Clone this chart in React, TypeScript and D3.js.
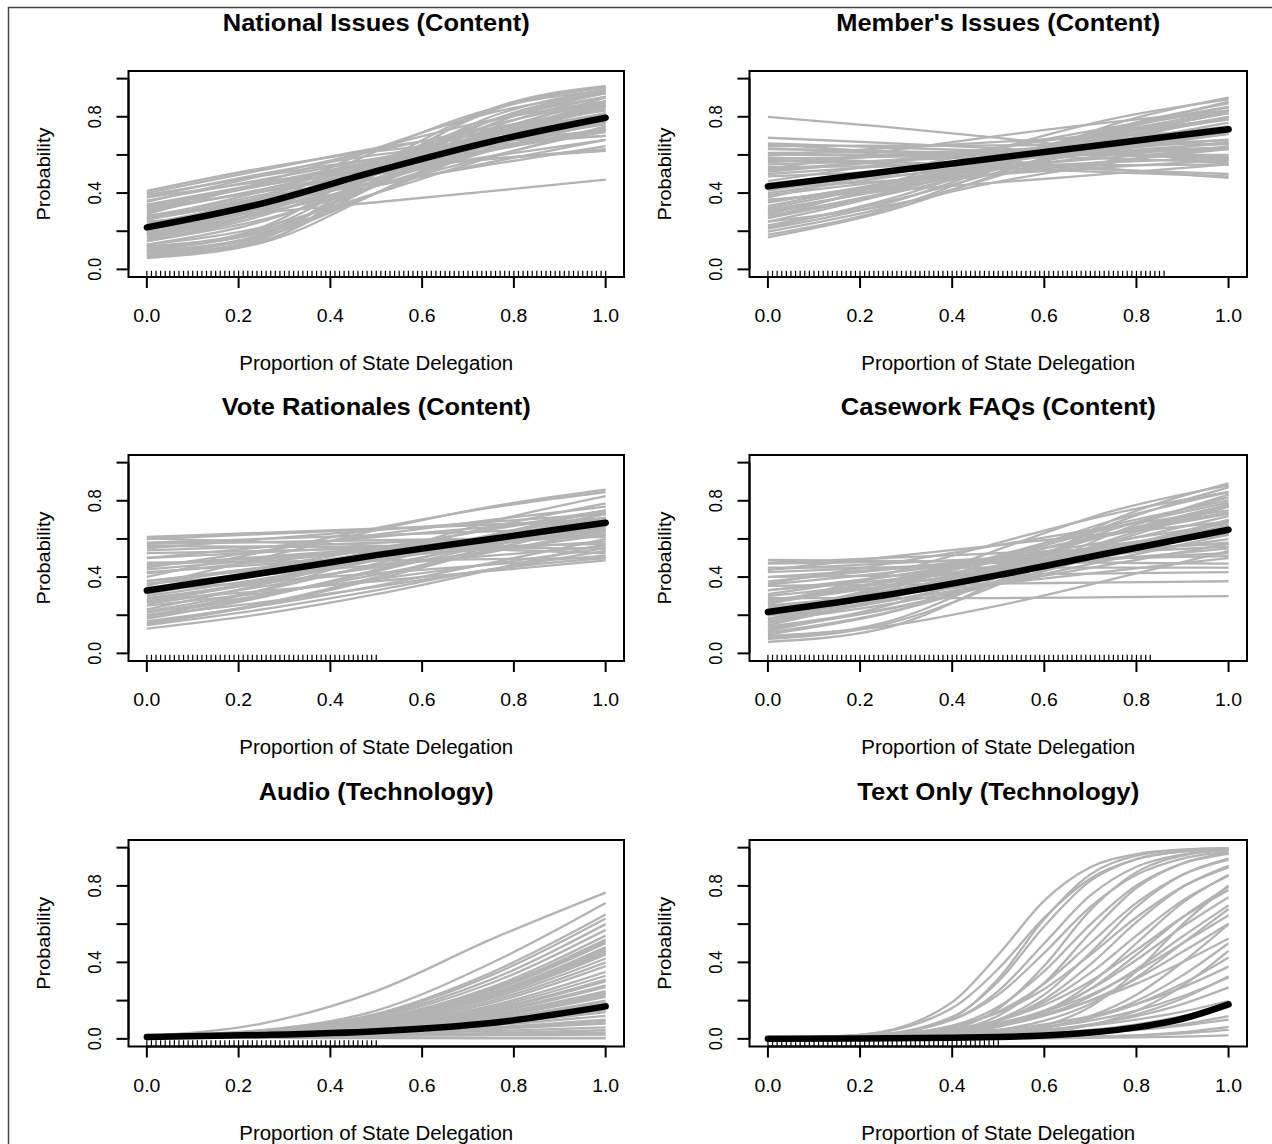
import * as d3 from 'd3';
import React from 'react';

// ---- data ----

const panelTitles = [
  'National Issues (Content)',
  "Member's Issues (Content)",
  'Vote Rationales (Content)',
  'Casework FAQs (Content)',
  'Audio (Technology)',
  'Text Only (Technology)',
];

const xLabel = 'Proportion of State Delegation';
const yLabel = 'Probability';

const xTicks = [0, 0.2, 0.4, 0.6, 0.8, 1.0];
const yTicks = [0, 0.2, 0.4, 0.6, 0.8, 1.0];
const yLabelTicks = [0, 0.4, 0.8];

// x positions where each simulated curve was read
const gridContent = [0, 0.25, 0.5, 0.75, 1];
const gridText = [0, 0.2, 0.4, 0.5, 0.6, 0.7, 0.8, 0.9, 1];

// observed delegation shares (rug), cut at each panel's largest value
const delegationShares = [
  0, 0.01, 0.02, 0.03, 0.04, 0.05, 0.06, 0.07, 0.08, 0.09, 0.1, 0.11, 0.12, 0.13, 0.14, 0.15, 0.16, 0.17,
  0.18, 0.19, 0.2, 0.21, 0.22, 0.23, 0.24, 0.25, 0.26, 0.27, 0.28, 0.29, 0.3, 0.31, 0.32, 0.33, 0.34,
  0.35, 0.36, 0.37, 0.38, 0.39, 0.4, 0.41, 0.42, 0.43, 0.44, 0.45, 0.46, 0.47, 0.48, 0.49, 0.5, 0.51,
  0.52, 0.53, 0.54, 0.55, 0.56, 0.57, 0.58, 0.59, 0.6, 0.61, 0.62, 0.63, 0.64, 0.65, 0.66, 0.67, 0.68,
  0.69, 0.7, 0.71, 0.72, 0.73, 0.74, 0.75, 0.76, 0.77, 0.78, 0.79, 0.8, 0.81, 0.82, 0.83, 0.84, 0.85,
  0.86, 0.87, 0.88, 0.89, 0.9, 0.91, 0.92, 0.93, 0.94, 0.95, 0.96, 0.97, 0.98, 0.99, 1.0,
];
const rugLimits = [1.0, 0.86, 0.5, 0.83, 0.5, 0.5];

const nationalMean = [0.22, 0.345, 0.515, 0.67, 0.795];
const nationalDraws = [
  [0.06, 0.14, 0.5, 0.84, 0.96], [0.076, 0.16, 0.52, 0.83, 0.953], [0.076, 0.15, 0.45, 0.76, 0.924],
  [0.095, 0.18, 0.5, 0.8, 0.94], [0.095, 0.17, 0.44, 0.74, 0.905], [0.119, 0.21, 0.5, 0.78, 0.924],
  [0.119, 0.2, 0.45, 0.72, 0.881], [0.119, 0.19, 0.4, 0.64, 0.818], [0.148, 0.3, 0.56, 0.777, 0.905],
  [0.148, 0.28, 0.5, 0.706, 0.852], [0.148, 0.26, 0.438, 0.622, 0.777], [0.182, 0.34, 0.562, 0.755, 0.881],
  [0.182, 0.32, 0.5, 0.679, 0.818], [0.182, 0.294, 0.438, 0.593, 0.731], [0.223, 0.378, 0.562, 0.731, 0.852],
  [0.223, 0.349, 0.5, 0.651, 0.777], [0.223, 0.321, 0.438, 0.562, 0.679], [0.269, 0.407, 0.562, 0.706, 0.818],
  [0.269, 0.378, 0.5, 0.622, 0.731], [0.269, 0.354, 0.45, 0.55, 0.646], [0.321, 0.438, 0.562, 0.679, 0.777],
  [0.321, 0.407, 0.5, 0.593, 0.679], [0.378, 0.5, 0.6, 0.67, 0.73], [0.378, 0.46, 0.53, 0.58, 0.622],
  [0.401, 0.52, 0.635, 0.72, 0.79], [0.411, 0.53, 0.62, 0.67, 0.7], [0.25, 0.298, 0.352, 0.41, 0.47],
  [0.069, 0.14, 0.4, 0.69, 0.881], [0.109, 0.22, 0.55, 0.84, 0.953], [0.13, 0.22, 0.4, 0.587, 0.75],
  [0.289, 0.456, 0.634, 0.782, 0.881], [0.168, 0.34, 0.62, 0.84, 0.94], [0.091, 0.17, 0.4, 0.67, 0.858],
  [0.354, 0.49, 0.622, 0.741, 0.832], [0.198, 0.38, 0.634, 0.821, 0.924], [0.332, 0.44, 0.52, 0.58, 0.63],
  [0.2, 0.33, 0.52, 0.7, 0.84], [0.16, 0.3, 0.5, 0.7, 0.86], [0.24, 0.36, 0.52, 0.66, 0.78],
  [0.28, 0.39, 0.53, 0.66, 0.76], [0.3, 0.42, 0.55, 0.68, 0.8], [0.34, 0.45, 0.57, 0.68, 0.77],
  [0.36, 0.47, 0.58, 0.7, 0.8], [0.13, 0.25, 0.47, 0.7, 0.87], [0.1, 0.2, 0.44, 0.71, 0.9],
  [0.19, 0.31, 0.48, 0.65, 0.8], [0.26, 0.37, 0.5, 0.63, 0.74], [0.22, 0.35, 0.54, 0.72, 0.86],
  [0.31, 0.41, 0.52, 0.63, 0.72], [0.39, 0.49, 0.58, 0.65, 0.7], [0.17, 0.29, 0.46, 0.63, 0.77],
  [0.08, 0.18, 0.47, 0.78, 0.93],
];

const membersMean = [0.435, 0.51, 0.585, 0.66, 0.735];
const membersDraws = [
  [0.168, 0.3, 0.5, 0.72, 0.88], [0.182, 0.31, 0.53, 0.76, 0.9], [0.198, 0.32, 0.49, 0.68, 0.832],
  [0.214, 0.34, 0.54, 0.74, 0.87], [0.231, 0.35, 0.51, 0.67, 0.8], [0.25, 0.39, 0.58, 0.739, 0.852],
  [0.269, 0.389, 0.525, 0.657, 0.769], [0.289, 0.426, 0.574, 0.711, 0.818], [0.31, 0.413, 0.525, 0.634, 0.731],
  [0.332, 0.45, 0.574, 0.69, 0.786], [0.354, 0.444, 0.537, 0.628, 0.711], [0.378, 0.506, 0.634, 0.746, 0.832],
  [0.389, 0.46, 0.531, 0.601, 0.668], [0.413, 0.503, 0.593, 0.677, 0.75], [0.438, 0.488, 0.537, 0.587, 0.634],
  [0.463, 0.552, 0.64, 0.719, 0.786], [0.488, 0.512, 0.537, 0.562, 0.587], [0.512, 0.565, 0.617, 0.666, 0.711],
  [0.537, 0.54, 0.543, 0.546, 0.55], [0.562, 0.593, 0.622, 0.651, 0.679], [0.587, 0.565, 0.544, 0.522, 0.5],
  [0.61, 0.613, 0.616, 0.619, 0.634], [0.634, 0.617, 0.599, 0.58, 0.562], [0.657, 0.615, 0.571, 0.526, 0.48],
  [0.69, 0.663, 0.634, 0.605, 0.574], [0.8, 0.748, 0.689, 0.622, 0.55], [0.599, 0.634, 0.668, 0.7, 0.731],
  [0.426, 0.463, 0.5, 0.537, 0.574], [0.646, 0.648, 0.65, 0.654, 0.657], [0.269, 0.444, 0.634, 0.79, 0.891],
  [0.574, 0.553, 0.531, 0.509, 0.488], [0.366, 0.41, 0.456, 0.503, 0.55], [0.525, 0.617, 0.7, 0.773, 0.832],
  [0.25, 0.33, 0.46, 0.56, 0.646],
  [0.3, 0.42, 0.56, 0.7, 0.82], [0.35, 0.45, 0.56, 0.66, 0.75], [0.4, 0.48, 0.56, 0.64, 0.71],
  [0.45, 0.51, 0.57, 0.63, 0.68], [0.5, 0.54, 0.58, 0.62, 0.66], [0.55, 0.57, 0.59, 0.61, 0.63],
  [0.6, 0.6, 0.6, 0.6, 0.6], [0.63, 0.62, 0.61, 0.6, 0.59], [0.66, 0.64, 0.62, 0.6, 0.58],
  [0.28, 0.4, 0.55, 0.69, 0.8], [0.32, 0.44, 0.58, 0.72, 0.83], [0.42, 0.5, 0.58, 0.66, 0.74],
  [0.52, 0.57, 0.62, 0.67, 0.72], [0.58, 0.59, 0.6, 0.62, 0.64], [0.22, 0.36, 0.55, 0.73, 0.85],
  [0.36, 0.43, 0.5, 0.57, 0.63],
];

const voteMean = [0.33, 0.42, 0.515, 0.6, 0.685];
const voteDraws = [
  [0.13, 0.206, 0.31, 0.438, 0.574], [0.148, 0.23, 0.33, 0.44, 0.5], [0.154, 0.254, 0.389, 0.544, 0.69],
  [0.168, 0.25, 0.354, 0.475, 0.599], [0.182, 0.294, 0.438, 0.593, 0.731], [0.198, 0.267, 0.349, 0.44, 0.537],
  [0.214, 0.305, 0.413, 0.531, 0.646], [0.231, 0.36, 0.512, 0.663, 0.786], [0.25, 0.315, 0.389, 0.469, 0.55],
  [0.269, 0.372, 0.488, 0.605, 0.711], [0.289, 0.366, 0.45, 0.537, 0.622], [0.31, 0.42, 0.537, 0.651, 0.75],
  [0.332, 0.375, 0.42, 0.465, 0.512], [0.354, 0.5, 0.646, 0.769, 0.858], [0.378, 0.45, 0.525, 0.599, 0.668],
  [0.401, 0.531, 0.657, 0.764, 0.846], [0.426, 0.466, 0.506, 0.547, 0.587], [0.45, 0.537, 0.622, 0.7, 0.769],
  [0.475, 0.481, 0.487, 0.494, 0.5], [0.5, 0.556, 0.61, 0.663, 0.711], [0.525, 0.537, 0.55, 0.562, 0.574],
  [0.55, 0.599, 0.646, 0.69, 0.731], [0.574, 0.583, 0.593, 0.602, 0.61], [0.599, 0.625, 0.651, 0.676, 0.7],
  [0.61, 0.632, 0.654, 0.674, 0.694], [0.603, 0.584, 0.565, 0.545, 0.525], [0.19, 0.332, 0.512, 0.69, 0.825],
  [0.279, 0.326, 0.378, 0.432, 0.488], [0.463, 0.506, 0.55, 0.593, 0.634], [0.562, 0.56, 0.556, 0.553, 0.55],
  [0.366, 0.413, 0.463, 0.512, 0.562],
  [0.2, 0.3, 0.43, 0.57, 0.7], [0.26, 0.35, 0.46, 0.57, 0.67], [0.3, 0.39, 0.49, 0.59, 0.68],
  [0.34, 0.41, 0.49, 0.57, 0.64], [0.38, 0.44, 0.51, 0.58, 0.65], [0.42, 0.48, 0.54, 0.6, 0.66],
  [0.46, 0.5, 0.54, 0.58, 0.62], [0.5, 0.53, 0.56, 0.59, 0.62], [0.54, 0.56, 0.58, 0.6, 0.62],
  [0.58, 0.6, 0.62, 0.64, 0.66], [0.16, 0.26, 0.4, 0.56, 0.71], [0.22, 0.33, 0.47, 0.62, 0.75],
  [0.28, 0.38, 0.5, 0.62, 0.73], [0.36, 0.45, 0.55, 0.65, 0.74], [0.44, 0.49, 0.55, 0.6, 0.65],
];

const caseworkMean = [0.217, 0.303, 0.41, 0.53, 0.648];
const caseworkDraws = [
  [0.06, 0.13, 0.38, 0.7, 0.891], [0.076, 0.15, 0.36, 0.63, 0.832], [0.083, 0.16, 0.4, 0.68, 0.87],
  [0.1, 0.206, 0.378, 0.587, 0.769], [0.119, 0.245, 0.438, 0.651, 0.818], [0.13, 0.227, 0.366, 0.531, 0.69],
  [0.148, 0.292, 0.494, 0.698, 0.846], [0.168, 0.254, 0.366, 0.494, 0.622], [0.182, 0.305, 0.463, 0.628, 0.769],
  [0.198, 0.274, 0.366, 0.469, 0.574], [0.214, 0.349, 0.512, 0.674, 0.802], [0.231, 0.326, 0.438, 0.556, 0.668],
  [0.25, 0.305, 0.366, 0.432, 0.5], [0.269, 0.378, 0.5, 0.622, 0.731], [0.279, 0.351, 0.432, 0.516, 0.599],
  [0.29, 0.29, 0.29, 0.295, 0.3], [0.31, 0.398, 0.494, 0.59, 0.679], [0.332, 0.383, 0.438, 0.494, 0.55],
  [0.354, 0.36, 0.366, 0.372, 0.378], [0.378, 0.438, 0.5, 0.562, 0.622], [0.401, 0.407, 0.413, 0.419, 0.426],
  [0.426, 0.45, 0.475, 0.5, 0.525], [0.45, 0.45, 0.45, 0.45, 0.45], [0.475, 0.5, 0.525, 0.55, 0.574],
  [0.49, 0.485, 0.48, 0.475, 0.47], [0.091, 0.14, 0.25, 0.39, 0.537], [0.259, 0.41, 0.58, 0.733, 0.846],
  [0.366, 0.466, 0.568, 0.665, 0.75], [0.161, 0.324, 0.544, 0.748, 0.881], [0.438, 0.503, 0.568, 0.631, 0.69],
  [0.14, 0.23, 0.37, 0.54, 0.7], [0.18, 0.27, 0.4, 0.55, 0.7], [0.2, 0.3, 0.43, 0.58, 0.72],
  [0.24, 0.32, 0.43, 0.55, 0.66], [0.27, 0.35, 0.45, 0.56, 0.66], [0.3, 0.37, 0.46, 0.55, 0.63],
  [0.33, 0.4, 0.48, 0.57, 0.65], [0.36, 0.42, 0.49, 0.56, 0.62], [0.4, 0.44, 0.49, 0.54, 0.58],
  [0.44, 0.47, 0.5, 0.53, 0.56], [0.11, 0.21, 0.38, 0.6, 0.78], [0.16, 0.28, 0.45, 0.63, 0.78],
  [0.22, 0.34, 0.5, 0.66, 0.79], [0.26, 0.37, 0.5, 0.63, 0.74], [0.47, 0.48, 0.49, 0.5, 0.51],
];

const audioMean = [0.01, 0.02, 0.04, 0.083, 0.17];
const audioDraws = [
  [0.015, 0.08, 0.25, 0.52, 0.765], [0.012, 0.044, 0.148, 0.395, 0.71], [0.016, 0.045, 0.131, 0.346, 0.65],
  [0.012, 0.04, 0.126, 0.332, 0.63], [0.009, 0.036, 0.119, 0.31, 0.6], [0.012, 0.038, 0.113, 0.291, 0.57],
  [0.012, 0.036, 0.103, 0.261, 0.52], [0.012, 0.035, 0.1, 0.255, 0.51], [0.01, 0.034, 0.1, 0.25, 0.5],
  [0.018, 0.038, 0.096, 0.239, 0.48], [0.012, 0.034, 0.095, 0.235, 0.47], [0.012, 0.034, 0.093, 0.228, 0.46],
  [0.012, 0.034, 0.092, 0.225, 0.45], [0.012, 0.033, 0.09, 0.219, 0.44], [0.007, 0.028, 0.083, 0.198, 0.4],
  [0.012, 0.032, 0.08, 0.187, 0.38], [0.012, 0.031, 0.075, 0.173, 0.35], [0.015, 0.032, 0.072, 0.164, 0.33],
  [0.012, 0.029, 0.068, 0.149, 0.3], [0.012, 0.028, 0.065, 0.141, 0.28], [0.012, 0.028, 0.063, 0.135, 0.27],
  [0.009, 0.025, 0.06, 0.127, 0.25], [0.012, 0.027, 0.058, 0.12, 0.24], [0.012, 0.026, 0.055, 0.114, 0.22],
  [0.012, 0.025, 0.053, 0.105, 0.2], [0.012, 0.024, 0.05, 0.1, 0.19], [0.012, 0.025, 0.049, 0.096, 0.18],
  [0.012, 0.023, 0.045, 0.083, 0.15], [0.012, 0.022, 0.043, 0.078, 0.14], [0.012, 0.022, 0.04, 0.071, 0.12],
  [0.012, 0.021, 0.036, 0.06, 0.1], [0.012, 0.019, 0.031, 0.05, 0.08], [0.012, 0.018, 0.027, 0.04, 0.06],
  [0.012, 0.015, 0.019, 0.025, 0.032], [0.007, 0.005, 0.004, 0.003, 0.002], [0.008, 0.007, 0.006, 0.005, 0.005],
  [0.012, 0.033, 0.088, 0.21, 0.42], [0.012, 0.03, 0.07, 0.155, 0.31], [0.012, 0.027, 0.057, 0.116, 0.23],
  [0.012, 0.024, 0.047, 0.09, 0.165], [0.012, 0.02, 0.033, 0.055, 0.09], [0.012, 0.017, 0.023, 0.03, 0.045],
  [0.01, 0.013, 0.016, 0.019, 0.022], [0.012, 0.036, 0.105, 0.27, 0.54],
];

const textMean = [0.0005, 0.0016, 0.0054, 0.01, 0.018, 0.033, 0.06, 0.105, 0.18];
const textDraws = [
  [0.002, 0.021, 0.192, 0.44, 0.723, 0.897, 0.966, 0.99, 0.997],
  [0.001, 0.009, 0.111, 0.314, 0.627, 0.86, 0.958, 0.988, 0.997],
  [0.002, 0.021, 0.161, 0.366, 0.634, 0.839, 0.94, 0.979, 0.993],
  [0.001, 0.012, 0.115, 0.3, 0.589, 0.826, 0.94, 0.981, 0.994],
  [0.001, 0.012, 0.1, 0.25, 0.5, 0.75, 0.9, 0.964, 0.988],
  [0.002, 0.015, 0.1, 0.231, 0.45, 0.69, 0.858, 0.943, 0.978],
  [0, 0.005, 0.053, 0.157, 0.382, 0.673, 0.872, 0.958, 0.987],
  [0.001, 0.01, 0.069, 0.168, 0.354, 0.599, 0.802, 0.917, 0.968],
  [0.001, 0.005, 0.044, 0.121, 0.293, 0.555, 0.789, 0.918, 0.971],
  [0.002, 0.011, 0.063, 0.142, 0.289, 0.5, 0.711, 0.858, 0.937],
  [0.001, 0.005, 0.039, 0.1, 0.231, 0.45, 0.69, 0.858, 0.943],
  [0.003, 0.014, 0.067, 0.137, 0.261, 0.44, 0.636, 0.796, 0.897],
  [0.001, 0.007, 0.041, 0.095, 0.206, 0.389, 0.61, 0.794, 0.905],
  [0.002, 0.01, 0.046, 0.096, 0.192, 0.345, 0.54, 0.723, 0.853],
  [0.001, 0.005, 0.027, 0.063, 0.142, 0.289, 0.5, 0.711, 0.858],
  [0.003, 0.013, 0.05, 0.096, 0.177, 0.301, 0.465, 0.636, 0.779],
  [0.001, 0.006, 0.031, 0.067, 0.137, 0.261, 0.44, 0.636, 0.796],
  [0, 0.001, 0.01, 0.027, 0.069, 0.168, 0.354, 0.599, 0.802],
  [0.003, 0.01, 0.041, 0.079, 0.148, 0.259, 0.413, 0.587, 0.741],
  [0.002, 0.008, 0.034, 0.065, 0.123, 0.221, 0.364, 0.535, 0.698],
  [0.001, 0.005, 0.023, 0.047, 0.095, 0.182, 0.321, 0.5, 0.679],
  [0.0045, 0.015, 0.047, 0.083, 0.142, 0.231, 0.354, 0.5, 0.646],
  [0.004, 0.012, 0.04, 0.07, 0.121, 0.201, 0.314, 0.455, 0.603],
  [0, 0.0025, 0.012, 0.027, 0.057, 0.119, 0.231, 0.401, 0.599],
  [0.007, 0.02, 0.052, 0.083, 0.13, 0.198, 0.289, 0.401, 0.525],
  [0.001, 0.004, 0.015, 0.029, 0.057, 0.109, 0.198, 0.332, 0.5],
  [0, 0.001, 0.007, 0.015, 0.034, 0.072, 0.147, 0.277, 0.46],
  [0.002, 0.006, 0.02, 0.036, 0.063, 0.109, 0.182, 0.289, 0.426],
  [0.004, 0.011, 0.029, 0.047, 0.076, 0.119, 0.182, 0.269, 0.378],
  [0.001, 0.004, 0.013, 0.024, 0.042, 0.074, 0.128, 0.211, 0.327],
  [0.003, 0.009, 0.023, 0.037, 0.06, 0.095, 0.148, 0.223, 0.321],
  [0.0025, 0.007, 0.018, 0.029, 0.047, 0.076, 0.119, 0.182, 0.269],
  [0.0045, 0.01, 0.022, 0.032, 0.047, 0.069, 0.1, 0.142, 0.198],
  [0.0015, 0.004, 0.011, 0.018, 0.029, 0.047, 0.076, 0.119, 0.182],
  [0.001, 0.002, 0.006, 0.011, 0.02, 0.036, 0.063, 0.109, 0.182],
  [0.001, 0.003, 0.007, 0.011, 0.018, 0.029, 0.047, 0.076, 0.119],
  [0.002, 0.0045, 0.01, 0.015, 0.022, 0.032, 0.047, 0.069, 0.1],
  [0, 0.001, 0.002, 0.004, 0.007, 0.011, 0.018, 0.035, 0.063],
  [0, 0.001, 0.0025, 0.004, 0.007, 0.011, 0.018, 0.029, 0.047],
  [0, 0, 0.001, 0.002, 0.003, 0.005, 0.008, 0.012, 0.018],
];

// ---- layout ----
const W = 1272, H = 1144;
const colLeft = [128.5, 749.5];
const colRight = [624, 1247];
const rowTop = [71, 455, 840];
const rowBottom = [277, 661, 1046.5];
const titleWidths = [307, 324, 309, 315, 235, 282];
const FONT = "'Liberation Sans', Arial, Helvetica, sans-serif";
const GRAY = '#b3b3b3';

const panels = [
  { grid: gridContent, draws: nationalDraws, mean: nationalMean },
  { grid: gridContent, draws: membersDraws, mean: membersMean },
  { grid: gridContent, draws: voteDraws, mean: voteMean },
  { grid: gridContent, draws: caseworkDraws, mean: caseworkMean },
  { grid: gridContent, draws: audioDraws, mean: audioMean },
  { grid: gridText, draws: textDraws, mean: textMean },
].map((p, i) => ({
  ...p,
  title: panelTitles[i],
  rugMax: rugLimits[i],
  left: colLeft[i % 2],
  right: colRight[i % 2],
  top: rowTop[Math.floor(i / 2)],
  bottom: rowBottom[Math.floor(i / 2)],
  titleWidth: titleWidths[i],
}));

const fmt = d3.format('.1f');

function Panel({ p }) {
  // R default: 4% padding on both axes
  const x = d3.scaleLinear().domain([-0.04, 1.04]).range([p.left, p.right]);
  const y = d3.scaleLinear().domain([-0.04, 1.04]).range([p.bottom, p.top]);
  const line = d3.line<number>()
    .x((_, i) => x(p.grid[i]))
    .y(d => y(d))
    .curve(d3.curveMonotoneX);
  const cx = (p.left + p.right) / 2;
  const cy = (p.top + p.bottom) / 2;
  const rug = delegationShares.filter(v => v <= p.rugMax + 1e-9);
  const rugH = 0.03 * (p.bottom - p.top);

  return (
    <g>
      <text x={cx} y={p.top - 40} textAnchor="middle" fontWeight="bold" fontSize={23}
        textLength={p.titleWidth} lengthAdjust="spacingAndGlyphs">{p.title}</text>

      {p.draws.map((d, i) => (
        <path key={i} d={line(d) || ''} fill="none" stroke={GRAY} strokeWidth={2.3} />
      ))}
      <path d={line(p.mean) || ''} fill="none" stroke="#000" strokeWidth={6.5}
        strokeLinecap="round" strokeLinejoin="round" />

      {rug.map((v, i) => (
        <line key={i} x1={x(v)} x2={x(v)} y1={p.bottom} y2={p.bottom - rugH} stroke="#000" strokeWidth={1.2} />
      ))}

      <rect x={p.left} y={p.top} width={p.right - p.left} height={p.bottom - p.top}
        fill="none" stroke="#000" strokeWidth={2} />

      {/* x axis */}
      <line x1={x(0)} x2={x(1)} y1={p.bottom} y2={p.bottom} stroke="#000" strokeWidth={2} />
      {xTicks.map(t => (
        <g key={t}>
          <line x1={x(t)} x2={x(t)} y1={p.bottom} y2={p.bottom + 11} stroke="#000" strokeWidth={2} />
          <text x={x(t)} y={p.bottom + 45} textAnchor="middle" fontSize={19}
            textLength={27} lengthAdjust="spacingAndGlyphs">{fmt(t)}</text>
        </g>
      ))}
      <text x={cx} y={p.bottom + 93} textAnchor="middle" fontSize={19.5}
        textLength={274} lengthAdjust="spacingAndGlyphs">{xLabel}</text>

      {/* y axis */}
      <line x1={p.left} x2={p.left} y1={y(0)} y2={y(1)} stroke="#000" strokeWidth={2} />
      {yTicks.map(t => (
        <line key={t} x1={p.left - 12} x2={p.left} y1={y(t)} y2={y(t)} stroke="#000" strokeWidth={2} />
      ))}
      {yLabelTicks.map(t => (
        <text key={t} transform={`translate(${p.left - 28},${y(t)}) rotate(-90)`} textAnchor="middle"
          fontSize={19} textLength={23} lengthAdjust="spacingAndGlyphs">{fmt(t)}</text>
      ))}
      <text transform={`translate(${p.left - 79},${cy}) rotate(-90)`} textAnchor="middle"
        fontSize={18} textLength={93} lengthAdjust="spacingAndGlyphs">{yLabel}</text>
    </g>
  );
}

export default function App() {
  return (
    <svg width={W} height={H} viewBox={`0 0 ${W} ${H}`}
      style={{ position: 'absolute', left: 0, top: 0, display: 'block', background: '#fff' }}
      fontFamily={FONT} fill="#000">
      <rect x={0} y={0} width={W} height={H} fill="#fff" />
      <path d={`M8.5,${H} V7.5 H${W}`} fill="none" stroke="#444" strokeWidth={1.5} />
      {panels.map((p, i) => <Panel key={i} p={p} />)}
    </svg>
  );
}
